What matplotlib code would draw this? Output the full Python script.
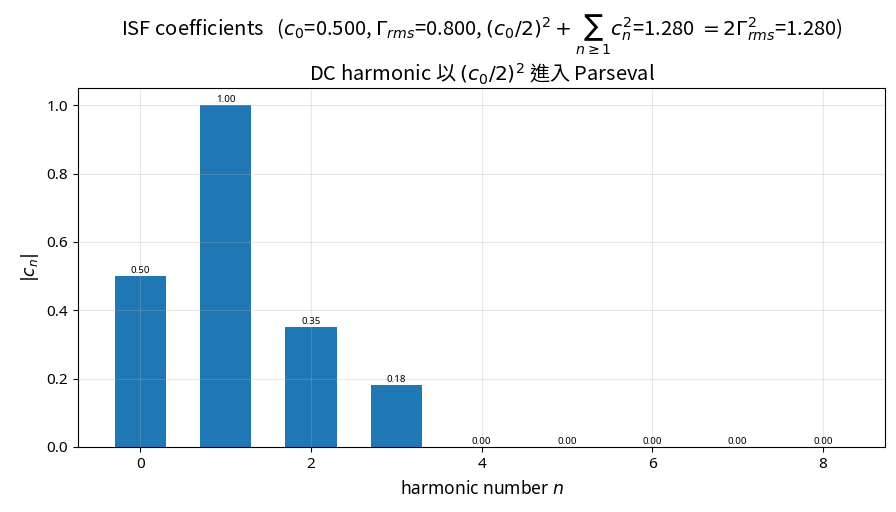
import numpy as np
import matplotlib
matplotlib.use('Agg')
import matplotlib.pyplot as plt

plt.rcParams['font.family'] = ['Noto Sans', 'Noto Sans CJK TC', 'DejaVu Sans']

# ISF 係數
harmonics = [0, 1, 2, 3, 4, 5, 6, 7, 8]
cn_abs = [0.50, 1.00, 0.35, 0.18, 0.0, 0.0, 0.0, 0.0, 0.0]

title = (r"ISF coefficients   ($c_0$=0.500, $\Gamma_{rms}$=0.800, "
         r"$(c_0/2)^2+\sum_{n\geq1} c_n^2$=1.280 $=2\Gamma_{rms}^2$=1.280)"
         "\nDC harmonic 以 $(c_0/2)^2$ 進入 Parseval")

fig, ax = plt.subplots(figsize=(8.96, 5.12), dpi=100)
bars = ax.bar(harmonics, cn_abs, width=0.6, color='#1f77b4')
ax.bar_label(bars, fmt='%.2f', fontsize=7, padding=1)
ax.set_xlabel('harmonic number $n$', fontsize=12.5, labelpad=6)
ax.set_ylabel('$|c_n|$', fontsize=12.5)
# 標題含 mathtext，只能用單一字型，所以用 CJK 字型
ax.set_title(title, fontsize=14.5, family='Noto Sans CJK TC', pad=5)
ax.grid(alpha=0.3)
ax.tick_params(labelsize=11)
plt.subplots_adjust(left=0.087, right=0.988, top=0.828, bottom=0.127)
plt.savefig('out.png')
